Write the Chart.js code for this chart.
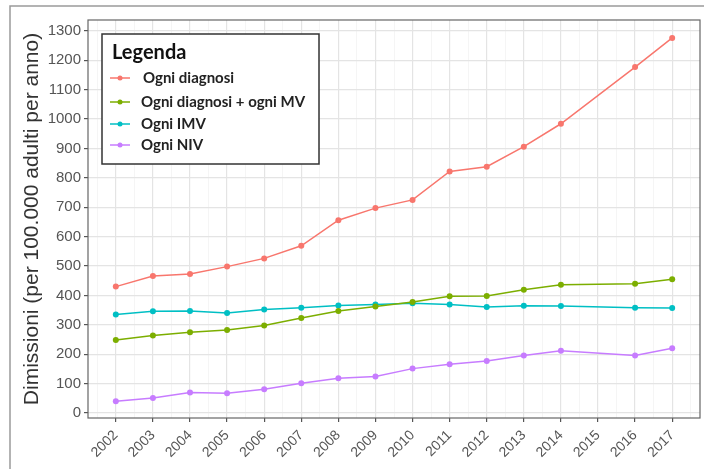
<!DOCTYPE html>
<html>
<head>
<meta charset="utf-8">
<script src="https://cdn.jsdelivr.net/npm/chart.js@4/dist/chart.umd.min.js"></script>
<style>
  html, body { margin: 0; padding: 0; background: #fff; }
  #wrap { width: 704px; height: 469px; position: relative; }
</style>
</head>
<body>
<div id="wrap"><canvas id="c" width="704" height="469"></canvas></div>
<script>
// anni (il 2015 compare sull'asse ma non ha dati)
var yearLabels = ['2002','2003','2004','2005','2006','2007','2008','2009','2010','2011','2012','2013','2014','2015','2016','2017'];
var years = [2002,2003,2004,2005,2006,2007,2008,2009,2010,2011,2012,2013,2014,2016,2017];
var yTickLabels = ['0','100','200','300','400','500','600','700','800','900','1000','1100','1200','1300'];

var seriesNames = ['Ogni diagnosi', 'Ogni diagnosi + ogni MV', 'Ogni IMV', 'Ogni NIV'];
var seriesColors = ['#F8766D', '#7CAE00', '#00BFC4', '#C77CFF'];

var ogniDiagnosi = [430, 466, 473, 498, 526, 569, 656, 697, 725, 822, 838, 906, 984, 1177, 1276];
var ogniDiagnosiMV = [248, 264, 275, 282, 298, 323, 347, 362, 378, 397, 398, 419, 436, 440, 455];
var ogniIMV = [335, 346, 347, 340, 352, 358, 366, 369, 373, 369, 361, 365, 364, 358, 357];
var ogniNIV = [40, 51, 70, 67, 81, 101, 118, 124, 151, 166, 177, 196, 212, 196, 220];

var allSeries = [ogniDiagnosi, ogniDiagnosiMV, ogniIMV, ogniNIV];

function toPoints(vals) {
    return vals.map(function(v, i) { return {x: years[i], y: v}; });
}

var datasets = allSeries.map(function(vals, i) {
    return {
        label: seriesNames[i],
        data: toPoints(vals),
        borderColor: seriesColors[i],
        backgroundColor: seriesColors[i],
        borderWidth: 1.5,
        pointRadius: 3,
        pointBorderWidth: 0,
        tension: 0
    };
});

var firstYear = parseInt(yearLabels[0]);
var lastYear = parseInt(yearLabels[yearLabels.length - 1]);

function isMajorX(v) { return Math.abs(v - Math.round(v)) < 1e-6; }
function isMajorY(v) { return v % 100 === 0; }

// cornice esterna e bordo del pannello
var framePlugin = {
    id: 'frame',
    beforeDraw: function(chart) {
        var ctx = chart.ctx;
        ctx.save();
        ctx.strokeStyle = '#9a9a9a';
        ctx.lineWidth = 1.5;
        ctx.beginPath();
        ctx.moveTo(10, 469);
        ctx.lineTo(10, 6);
        ctx.lineTo(704, 6);
        ctx.stroke();
        ctx.restore();
    },
    afterDatasetsDraw: function(chart) {
        var a = chart.chartArea, ctx = chart.ctx;
        ctx.save();
        ctx.strokeStyle = '#666';
        ctx.lineWidth = 1.2;
        ctx.strokeRect(a.left, a.top, a.right - a.left, a.bottom - a.top);
        ctx.restore();
    }
};

var legendPlugin = {
    id: 'legendBox',
    afterDraw: function(chart) {
        var ctx = chart.ctx;
        ctx.save();
        ctx.fillStyle = '#fff';
        ctx.fillRect(102, 34, 217, 130);
        ctx.strokeStyle = '#333';
        ctx.lineWidth = 1.5;
        ctx.strokeRect(102, 34, 217, 130);
        ctx.fillStyle = '#111';
        ctx.textBaseline = 'middle';
        ctx.font = 'bold 20px Lato';
        ctx.fillText('Legenda', 112, 53);
        var ys = [78, 102, 124, 145];
        ctx.font = 'bold 15px Lato';
        for (var i = 0; i < seriesNames.length; i++) {
            ctx.strokeStyle = seriesColors[i];
            ctx.fillStyle = seriesColors[i];
            ctx.lineWidth = 1.5;
            ctx.beginPath();
            ctx.moveTo(110, ys[i]);
            ctx.lineTo(130, ys[i]);
            ctx.stroke();
            ctx.beginPath();
            ctx.arc(120, ys[i], 2.5, 0, Math.PI * 2);
            ctx.fill();
            ctx.fillStyle = '#222';
            ctx.fillText(seriesNames[i], i === 0 ? 143 : 141, ys[i]);
        }
        ctx.restore();
    }
};

new Chart(document.getElementById('c'), {
    type: 'line',
    data: { datasets: datasets },
    plugins: [framePlugin, legendPlugin],
    options: {
        responsive: false,
        animation: false,
        layout: { padding: { left: 14, right: 3, top: 20, bottom: 0 } },
        plugins: { legend: { display: false }, tooltip: { enabled: false } },
        scales: {
            x: {
                type: 'linear',
                min: firstYear - 0.75,
                max: lastYear + 0.75,
                afterBuildTicks: function(scale) {
                    var t = [];
                    for (var v = firstYear - 0.5; v <= lastYear + 0.5; v += 0.5) t.push({value: v});
                    scale.ticks = t;
                },
                afterFit: function(scale) {
                    scale.height = 51;
                    scale.paddingLeft = 0;
                    scale.paddingRight = 0;
                },
                border: { display: false },
                grid: {
                    drawTicks: true,
                    tickLength: 4,
                    color: function(c) { return isMajorX(c.tick.value) ? '#e4e4e4' : '#f1f1f1'; },
                    lineWidth: function(c) { return isMajorX(c.tick.value) ? 1.2 : 0.7; },
                    tickColor: function(c) { return isMajorX(c.tick.value) ? '#555' : 'rgba(0,0,0,0)'; }
                },
                ticks: {
                    autoSkip: false,
                    minRotation: 45,
                    maxRotation: 45,
                    padding: 5,
                    color: '#555',
                    font: { family: 'Liberation Sans', size: 14 },
                    callback: function(v) {
                        if (!isMajorX(v)) return '';
                        var idx = yearLabels.indexOf(String(Math.round(v)));
                        return idx >= 0 ? yearLabels[idx] : '';
                    }
                }
            },
            y: {
                type: 'linear',
                min: -17,
                max: 1337,
                afterBuildTicks: function(scale) {
                    var t = [];
                    var top = parseInt(yTickLabels[yTickLabels.length - 1]);
                    for (var v = 0; v <= top; v += 50) t.push({value: v});
                    scale.ticks = t;
                },
                afterFit: function(scale) { scale.width = 74; },
                border: { display: false },
                grid: {
                    tickLength: 4,
                    color: function(c) { return isMajorY(c.tick.value) ? '#e4e4e4' : '#f1f1f1'; },
                    lineWidth: function(c) { return isMajorY(c.tick.value) ? 1.2 : 0.7; },
                    tickColor: function(c) { return isMajorY(c.tick.value) ? '#555' : 'rgba(0,0,0,0)'; }
                },
                ticks: {
                    padding: 3,
                    color: '#555',
                    font: { family: 'Liberation Sans', size: 15 },
                    callback: function(v) {
                        if (!isMajorY(v)) return '';
                        return yTickLabels[v / 100];
                    }
                },
                title: {
                    display: true,
                    text: 'Dimissioni (per 100.000 adulti per anno)',
                    color: '#333',
                    font: { family: 'Liberation Sans', size: 21 },
                    padding: { top: 6, bottom: 0 }
                }
            }
        }
    }
});
</script>
</body>
</html>
